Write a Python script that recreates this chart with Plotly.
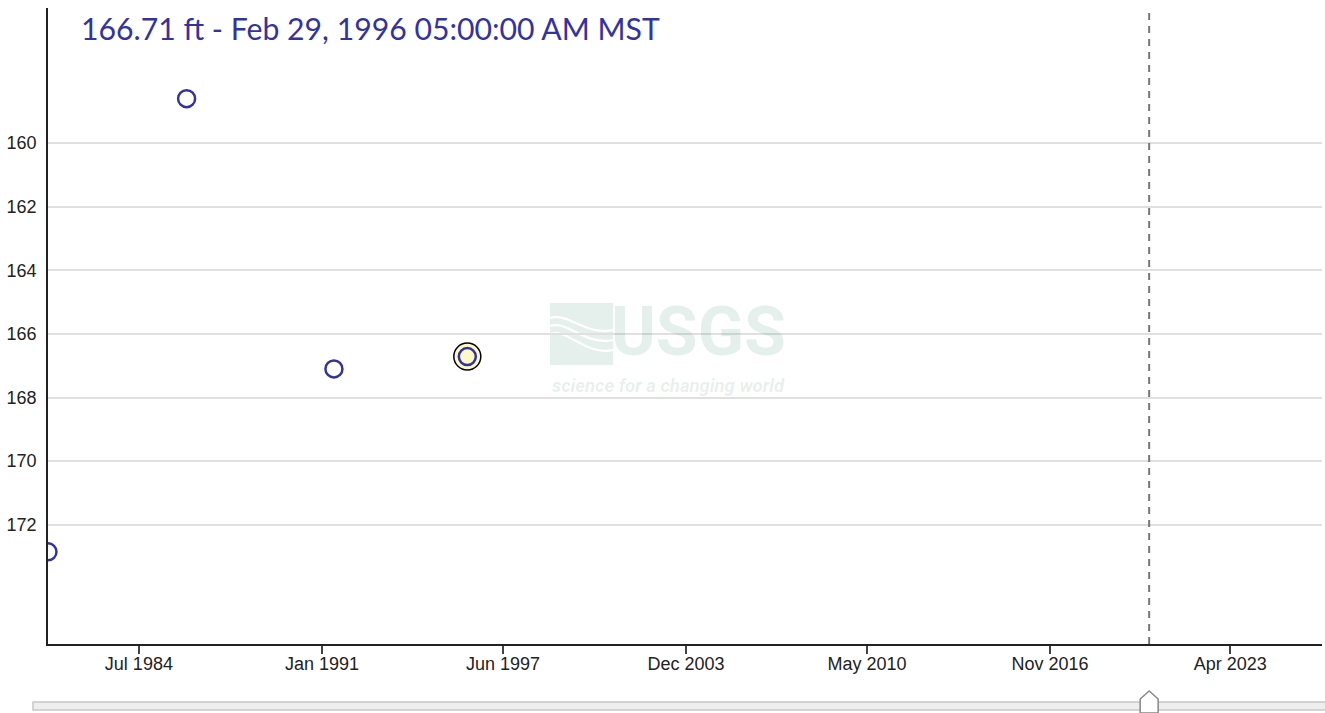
import plotly.graph_objects as go

# ---- data ----
dates = ["1981-04-09", "1986-03-12", "1991-06-05", "1996-02-29 05:00"]
levels = [172.85, 158.6, 167.1, 166.71]
highlight_index = 3
marker_date = "2020-05-18"
x_range = ["1981-04-09", "2026-07-08"]
y_range = [175.75, 155.75]
y_ticks = [160, 162, 164, 166, 168, 170, 172]
x_tickvals = ["1984-07-01", "1991-01-01", "1997-06-06", "2003-12-05",
              "2010-05-12", "2016-11-10", "2023-04-05"]
x_ticktext = ["Jul 1984", "Jan 1991", "Jun 1997", "Dec 2003",
              "May 2010", "Nov 2016", "Apr 2023"]
title_text = "166.71 ft - Feb 29, 1996 05:00:00 AM MST"

W, H = 1325, 713
PL, PT, PR, PB = 48, 8, 1322, 644   # plot area in page pixels
ML, MT = PL, PT
PW, PH = PR - PL, PB - PT
MR, MB = W - ML - PW, H - MT - PH

def px(x):
    return (x - PL) / PW

def py(y):
    return 1 - (y - PT) / PH

BLUE = "rgb(51,51,160)"

fig = go.Figure()

# highlight halo
fig.add_trace(go.Scatter(
    x=[dates[highlight_index]], y=[levels[highlight_index]], mode="markers",
    marker=dict(symbol="circle", size=27, color="#fdf8c8",
                line=dict(color="black", width=1.5)),
    hoverinfo="skip", showlegend=False))

# data points
fig.add_trace(go.Scatter(
    x=dates, y=levels, mode="markers",
    marker=dict(symbol="circle-open", size=17, color=BLUE,
                line=dict(color=BLUE, width=2.5)),
    showlegend=False))

shapes = []
# watermark block
WM = "rgba(0,102,61,0.1)"
shapes.append(dict(type="rect", xref="paper", yref="paper", layer="below",
                   x0=px(550), x1=px(613), y0=py(365), y1=py(303),
                   fillcolor=WM, line=dict(width=0)))
for (ya, yb) in [(318, 330), (326, 340), (334, 350)]:
    path = (f"M{px(550)},{py(ya)} C{px(568)},{py(ya-6)} {px(585)},{py(yb+6)} "
            f"{px(613)},{py(yb)}")
    shapes.append(dict(type="path", xref="paper", yref="paper", layer="below",
                       path=path, line=dict(color="white", width=2.2)))

# dashed vertical line
shapes.append(dict(type="line", xref="x", yref="paper", x0=marker_date,
                   x1=marker_date, y0=0, y1=1,
                   line=dict(color="#777777", width=2, dash="7px,6px")))

# slider bar
shapes.append(dict(type="rect", xref="paper", yref="paper",
                   x0=px(33), x1=px(1330), y0=py(710), y1=py(702),
                   fillcolor="#eeeeee", line=dict(color="#c8c8c8", width=1.5)))
# slider handle
hy0, hy1, hy2 = py(713), py(699), py(691)
shapes.append(dict(type="path", xref="x", yref="paper", xsizemode="pixel",
                   xanchor=marker_date,
                   path=f"M-9,{hy0} L-9,{hy1} L0,{hy2} L9,{hy1} L9,{hy0} Z",
                   fillcolor="white", line=dict(color="#888888", width=1.5)))

annotations = [
    dict(text=title_text, xref="paper", yref="paper", x=px(79), y=py(28),
         xanchor="left", yanchor="middle", showarrow=False,
         font=dict(family="Lato", size=30.2, color=BLUE)),
    dict(text="<b>USGS</b>", xref="paper", yref="paper", x=px(787), y=py(373),
         xanchor="right", yanchor="bottom", showarrow=False, borderpad=0,
         font=dict(family="Roboto", size=68, color=WM)),
    dict(text="<b><i>science for a changing world</i></b>", xref="paper",
         yref="paper", x=px(786), y=py(374), xanchor="right", yanchor="top",
         showarrow=False, borderpad=0,
         font=dict(family="Roboto", size=18.5, color=WM)),
]

fig.update_layout(
    width=W, height=H,
    margin=dict(l=ML, r=MR, t=MT, b=MB, pad=0),
    plot_bgcolor="white", paper_bgcolor="white",
    shapes=shapes, annotations=annotations,
    xaxis=dict(type="date", range=x_range, tickvals=x_tickvals,
               ticktext=x_ticktext, showgrid=False, zeroline=False,
               showline=True, linecolor="#222", linewidth=1.5,
               ticks="outside", ticklen=8, tickwidth=1.5, tickcolor="#444",
               ticklabelstandoff=-5,
               tickfont=dict(family="Arial", size=18, color="#222")),
    yaxis=dict(range=y_range, tickvals=y_ticks, showgrid=True,
               gridcolor="#e0e0e0", gridwidth=2, zeroline=False,
               showline=True, linecolor="#222", linewidth=1.5,
               ticks="outside", ticklen=6, tickcolor="rgba(0,0,0,0)",
               tickfont=dict(family="Arial", size=18, color="#222")),
)

fig.write_html(
    "out.html",
    config={"displayModeBar": False},
    post_script="document.body.style.margin='0';"
                "document.body.style.overflow='hidden';")
